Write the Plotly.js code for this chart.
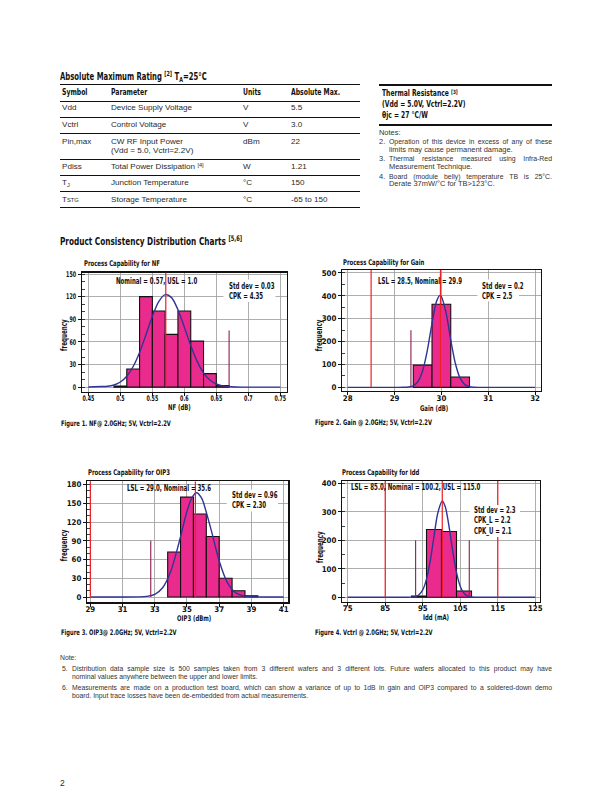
<!DOCTYPE html>
<html><head><meta charset="utf-8">
<script src="https://cdn.plot.ly/plotly-3.0.1.min.js"></script>
<style>
body{margin:0;width:612px;height:792px;position:relative;background:#fff;overflow:hidden;font-family:"Liberation Sans",Arial,sans-serif;color:#2a2a2a}
#plot{position:absolute;left:0;top:0;width:612px;height:792px}
.t{position:absolute;white-space:nowrap;line-height:10px;font-size:8.1px}
.b{font-family:"Liberation Sans Narrow","DejaVu Sans Condensed",sans-serif;font-weight:bold;color:#111;display:inline-block;transform-origin:0 50%}
.hl{position:absolute;background:#111}
.j{position:absolute;text-align:justify;text-align-last:justify;white-space:nowrap}
.n{position:absolute;white-space:nowrap}
.w{transform:scaleX(1.08);transform-origin:0 50%}
.r{font-size:6.9px;line-height:7.6px;color:#333}
.q{font-size:6.8px;line-height:8px;color:#333}
sup{font-size:70%;vertical-align:0;position:relative;top:-0.45em}
sub{font-size:70%;vertical-align:0;position:relative;top:0.3em}
</style></head>
<body>
<div id="plot"></div>

<div class="t b" style="left:60px;top:71.5px;font-size:9.8px;transform:scaleX(0.78)">Absolute Maximum Rating <sup>[2]</sup> T<sub>A</sub>=25°C</div>
<div class="hl" style="left:60px;top:83.5px;width:300px;height:1.2px"></div>
<div class="t b" style="left:62px;top:88.3px;font-size:8px;transform:scaleX(0.85)">Symbol</div>
<div class="t b" style="left:111px;top:88.3px;font-size:8px;transform:scaleX(0.85)">Parameter</div>
<div class="t b" style="left:243px;top:88.3px;font-size:8px;transform:scaleX(0.85)">Units</div>
<div class="t b" style="left:291px;top:88.3px;font-size:8px;transform:scaleX(0.85)">Absolute Max.</div>
<div class="hl" style="left:60px;top:101.2px;width:300px;height:1px"></div>
<div class="t" style="left:62px;top:103.3px">Vdd</div><div class="t" style="left:111px;top:103.3px">Device Supply Voltage</div><div class="t" style="left:243px;top:103.3px">V</div><div class="t" style="left:291px;top:103.3px">5.5</div>
<div class="hl" style="left:60px;top:117px;width:300px;height:0.7px"></div>
<div class="t" style="left:62px;top:120.3px">Vctrl</div><div class="t" style="left:111px;top:120.3px">Control Voltage</div><div class="t" style="left:243px;top:120.3px">V</div><div class="t" style="left:291px;top:120.3px">3.0</div>
<div class="hl" style="left:60px;top:133.4px;width:300px;height:0.7px"></div>
<div class="t" style="left:62px;top:137.3px">Pin,max</div><div class="t" style="left:111px;top:137.3px;line-height:9px">CW RF Input Power<br>(Vdd = 5.0, Vctrl=2.2V)</div><div class="t" style="left:243px;top:137.3px">dBm</div><div class="t" style="left:291px;top:137.3px">22</div>
<div class="hl" style="left:60px;top:158.7px;width:300px;height:0.7px"></div>
<div class="t" style="left:62px;top:162.3px">Pdiss</div><div class="t" style="left:111px;top:162.3px">Total Power Dissipation <sup>[4]</sup></div><div class="t" style="left:243px;top:162.3px">W</div><div class="t" style="left:291px;top:162.3px">1.21</div>
<div class="hl" style="left:60px;top:174.7px;width:300px;height:0.7px"></div>
<div class="t" style="left:62px;top:178px">T<sub>J</sub></div><div class="t" style="left:111px;top:178px">Junction Temperature</div><div class="t" style="left:243px;top:178px">°C</div><div class="t" style="left:291px;top:178px">150</div>
<div class="hl" style="left:60px;top:190.7px;width:300px;height:0.7px"></div>
<div class="t" style="left:62px;top:194.7px">T<span style="font-size:5.8px">STG</span></div><div class="t" style="left:111px;top:194.7px">Storage Temperature</div><div class="t" style="left:243px;top:194.7px">°C</div><div class="t" style="left:291px;top:194.7px">-65 to 150</div>
<div class="hl" style="left:60px;top:207.2px;width:300px;height:1.2px"></div>

<div class="hl" style="left:379px;top:84.4px;width:173px;height:1.2px"></div>
<div class="t b" style="left:382px;top:88.3px;font-size:8.4px;transform:scaleX(0.8)">Thermal Resistance <sup>[3]</sup></div>
<div class="t b" style="left:382px;top:99px;font-size:8.4px;transform:scaleX(0.8)">(Vdd = 5.0V, Vctrl=2.2V)</div>
<div class="t b" style="left:382px;top:109.7px;font-size:8.4px;transform:scaleX(0.8)">θjc = 27 °C/W</div>
<div class="hl" style="left:379px;top:124.4px;width:173px;height:1.2px"></div>
<div class="n r w" style="left:379px;top:128.5px">Notes:</div>
<div class="n r w" style="left:379px;top:137.9px">2.</div><div class="j r" style="left:389px;top:137.9px;width:163px">Operation of this device in excess of any of these</div>
<div class="n r w" style="left:389px;top:145.8px">limits may cause permanent damage.</div>
<div class="n r w" style="left:379px;top:155.2px">3.</div><div class="j r" style="left:389px;top:155.2px;width:163px">Thermal resistance measured using Infra-Red</div>
<div class="n r w" style="left:389px;top:163.1px">Measurement Technique.</div>
<div class="n r w" style="left:379px;top:172.5px">4.</div><div class="j r" style="left:389px;top:172.5px;width:163px">Board (module belly) temperature TB is 25°C.</div>
<div class="n r w" style="left:389px;top:180.4px">Derate 37mW/°C for TB>123°C.</div>

<div class="t b" style="left:60px;top:236.7px;font-size:11px;transform:scaleX(0.74)">Product Consistency Distribution Charts <sup>[5,6]</sup></div>

<div class="n q" style="left:60px;top:654.3px">Note:</div>
<div class="n q" style="left:62px;top:665px">5.</div><div class="j q" style="left:72px;top:665px;width:480px">Distribution data sample size is 500 samples taken from 3 different wafers and 3 different lots. Future wafers allocated to this product may have</div>
<div class="n q" style="left:72px;top:673px">nominal values anywhere between the upper and lower limits.</div>
<div class="n q" style="left:62px;top:684.3px">6.</div><div class="j q" style="left:72px;top:684.3px;width:480px">Measurements are made on a production test board, which can show a variance of up to 1dB in gain and OIP3 compared to a soldered-down demo</div>
<div class="n q" style="left:72px;top:692.3px">board. Input trace losses have been de-embedded from actual measurements.</div>
<div class="t" style="left:60px;top:778px;font-size:8.5px">2</div>

<script>
// ---------- data ----------
const nfBinLeft=[0.49,0.51,0.53,0.55,0.57,0.59,0.61,0.63,0.65];
const nfCounts=[1.5,24,120,101,70,101,61,18,2];
const nfBinWidth=0.02;
const nfCurveX=[0.45,0.47,0.48,0.49,0.50,0.51,0.52,0.53,0.54,0.55,0.56,0.57,0.58,0.59,0.60,0.61,0.62,0.63,0.64,0.65,0.66,0.68,0.70,0.75];
const nfCurveY=[0.2,0.8,1.2,2.9,6.9,14.5,27.4,46,69.6,94,113.5,122.7,118.7,102.7,79.6,55.1,34.2,19,9.4,4.2,1.8,0.3,0,0];
const nfRedLines=[0.571];
const nfMarks=[[0.67,75]];
const nfXTicks=[0.45,0.5,0.55,0.6,0.65,0.7,0.75];
const nfXTickText=["0.45","0.5","0.55","0.6","0.65","0.7","0.75"];
const nfYTicks=[0,30,60,90,120,150];

const gainBinLeft=[29.4,29.8,30.2];
const gainCounts=[97,363,45];
const gainBinWidth=0.4;
const gainCurveX=[28,29,29.2,29.3,29.4,29.5,29.6,29.7,29.8,29.9,29.97,30.0,30.1,30.2,30.3,30.4,30.5,30.6,30.7,30.8,32];
const gainCurveY=[0,0,0.2,1.5,6.9,25.4,72.7,161.6,280,378,402,397,325.6,207,103,40,12,2.8,0.5,0,0];
const gainRedLines=[28.5,29.98];
const gainMarks=[[29.35,250]];
const gainXTicks=[28,29,30,31,32];
const gainYTicks=[0,100,200,300,400,500];

const oipBinLeft=[33.8,34.6,35.4,36.2,37.0,37.8,38.6];
const oipCounts=[72,160,133,97,30,10,2];
const oipBinWidth=0.8;
const oipCurveX=[29,32,32.5,33,33.5,34,34.5,35,35.3,35.6,35.9,36,36.5,37,37.5,38,38.5,39,40,41];
const oipCurveY=[0,0.15,0.9,4.3,15.3,41.6,86.6,137.4,159,167,159,153,107.6,57.7,23.5,7.3,1.7,0.3,0,0];
const oipRedLines=[29.0,35.52];
const oipMarks=[[32.75,90]];
const oipXTicks=[29,31,33,35,37,39,41];
const oipYTicks=[0,30,60,90,120,150,180];

const iddBinLeft=[92,96,100,104];
const iddCounts=[4,238,231,22];
const iddBinWidth=4;
const iddCurveX=[75,91,92,93,94,95,96,97,98,99,100.2,101,102,103,104,105,106,107,108,109,110,125];
const iddCurveY=[0,0.1,0.6,2.5,8.9,26,63.8,128,214,295,338,318,249,161,86.3,38.3,14,4.3,1.1,0.2,0,0];
const iddRedLines=[85,100.2,115];
const iddMarks=[[93.1,200],[107.4,200]];
const iddXTicks=[75,85,95,105,115,125];
const iddYTicks=[0,100,200,300,400];

// ---------- style ----------
const PINK='#EA2A8C', RED='#EE2024', MAROON='#8A1E50', BLUE='#2E3595';
const NARROW='Liberation Sans Narrow, DejaVu Sans Condensed, sans-serif';
const W=612,H=792;
const px=x=>x/W, py=y=>1-y/H;

const charts=[
 {id:'',  bl:nfBinLeft,cnt:nfCounts,bw:nfBinWidth,cx:nfCurveX,cy:nfCurveY,red:nfRedLines,mk:nfMarks,xt:nfXTicks,xtt:nfXTickText,yt:nfYTicks,
  box:[82,287,272.5,391.7],xr:[0.44,0.7605],yr:[-6,152],wb:[223.5,275.5,279.5,302],ymin:10},
 {id:'2', bl:gainBinLeft,cnt:gainCounts,bw:gainBinWidth,cx:gainCurveX,cy:gainCurveY,red:gainRedLines,mk:gainMarks,xt:gainXTicks,yt:gainYTicks,
  box:[342.3,540.7,270,391],xr:[27.885,32.12],yr:[-16,513],wb:[477.5,519,279.5,301.5],ymin:50},
 {id:'3', bl:oipBinLeft,cnt:oipCounts,bw:oipBinWidth,cx:oipCurveX,cy:oipCurveY,red:oipRedLines,mk:oipMarks,xt:oipXTicks,yt:oipYTicks,
  box:[87.3,288.3,481.3,602.3],xr:[28.81,41.29],yr:[-8.5,185.4],wb:[226.7,278,489.5,511.5],ymin:10},
 {id:'4', bl:iddBinLeft,cnt:iddCounts,bw:iddBinWidth,cx:iddCurveX,cy:iddCurveY,red:iddRedLines,mk:iddMarks,xt:iddXTicks,yt:iddYTicks,
  box:[342.3,540,481,601.7],xr:[73.56,126.25],yr:[-15.4,408],wb:[469.5,520,505,537],ymin:50}
];

const data=[], shapes=[], layout={width:W,height:H,margin:{l:0,r:0,t:0,b:0},showlegend:false,
  paper_bgcolor:'rgba(0,0,0,0)',plot_bgcolor:'#fff',font:{family:NARROW,color:'#111'}};
const tickfont={family:NARROW,size:7.8,weight:'bold',color:'#111'};

charts.forEach(c=>{
  const xa='x'+c.id, ya='y'+c.id;
  data.push({type:'bar',x:c.bl,y:c.cnt,width:c.bl.map(()=>c.bw),offset:0,xaxis:xa,yaxis:ya,
    marker:{color:PINK,line:{color:'#111',width:1.1}},hoverinfo:'skip'});
  data.push({type:'scatter',mode:'lines',x:c.cx,y:c.cy,xaxis:xa,yaxis:ya,line:{color:BLUE,width:1.4,shape:'spline',smoothing:0.8},hoverinfo:'skip'});
  c.red.forEach(v=>shapes.push({type:'line',xref:xa,yref:ya,x0:v,x1:v,y0:0,y1:c.yr[1],line:{color:RED,width:1.2},layer:'above'}));
  c.mk.forEach(m=>shapes.push({type:'line',xref:xa,yref:ya,x0:m[0],x1:m[0],y0:0,y1:m[1],line:{color:MAROON,width:1.1},layer:'above'}));
  shapes.push({type:'rect',xref:'paper',yref:'paper',x0:px(c.wb[0]),x1:px(c.wb[1]),y0:py(c.wb[3]),y1:py(c.wb[2]),
    fillcolor:'#fff',line:{width:0},layer:'above'});
  const axCommon={showline:true,linecolor:'#111',linewidth:1.4,mirror:true,ticks:'outside',ticklen:3,tickwidth:1,tickcolor:'#111',
    showgrid:true,gridcolor:'#9a9a9a',gridwidth:0.8,zeroline:false,tickfont:tickfont,fixedrange:true};
  layout['xaxis'+c.id]=Object.assign({},axCommon,{domain:[px(c.box[0]),px(c.box[1])],range:c.xr,anchor:ya,
    tickmode:'array',tickvals:c.xt,ticktext:c.xtt||c.xt.map(String),ticklabelstandoff:-4});
  layout['yaxis'+c.id]=Object.assign({},axCommon,{domain:[py(c.box[3]),py(c.box[2])],range:c.yr,anchor:xa,
    tickmode:'array',tickvals:c.yt,
    minor:{tickmode:'linear',tick0:0,dtick:c.ymin,ticks:'inside',ticklen:3,tickwidth:0.8,tickcolor:'#111',showgrid:false}});
});
layout.shapes=shapes;

function A(text,x,y,o){return Object.assign({text:text,x:px(x),y:py(y),xref:'paper',yref:'paper',showarrow:false,
  xanchor:'left',yanchor:'middle',align:'left',borderpad:0,font:{family:NARROW,size:8,weight:'bold',color:'#111'}},o||{});}
const fT={family:NARROW,size:7.8,weight:'bold',color:'#111'};
const fA={family:NARROW,size:8.2,weight:'bold',color:'#111'};
const fX={family:NARROW,size:7.8,weight:'bold',color:'#111'};
const fC={family:NARROW,size:7.6,weight:'bold',color:'#111'};
const fI={family:NARROW,size:8,weight:'bold',color:'#111'};
layout.annotations=[
 A('Process Capability for NF',82.7,263,{font:fT}),
 A('Process Capability for Gain',342.3,262.3,{font:fT}),
 A('Process Capability for OIP3',87.3,472.3,{font:fT}),
 A('Process Capability for Idd',341,472.3,{font:fT}),
 A('frequency',64,330,{textangle:-90,xanchor:'center',font:fA}),
 A('frequency',319.3,330,{textangle:-90,xanchor:'center',font:fA}),
 A('frequency',64.3,540,{textangle:-90,xanchor:'center',font:fA}),
 A('frequency',319.3,541.7,{textangle:-90,xanchor:'center',font:fA}),
 A('NF (dB)',183,407.5,{xanchor:'center',font:fX}),
 A('Gain (dB)',438.3,408,{xanchor:'center',font:fX}),
 A('OIP3 (dBm)',199,618.7,{xanchor:'center',font:fX}),
 A('Idd (mA)',440,617.7,{xanchor:'center',font:fX}),
 A('Figure 1. NF@ 2.0GHz; 5V, Vctrl=2.2V',60,423.3,{font:fC}),
 A('Figure 2. Gain @ 2.0GHz; 5V, Vctrl=2.2V',314,422.7,{font:fC}),
 A('Figure 3. OIP3@ 2.0GHz; 5V, Vctrl=2.2V',60,632.7,{font:fC}),
 A('Figure 4. Vctrl @ 2.0GHz; 5V, Vctrl=2.2V',314,632.7,{font:fC}),
 A('Nominal = 0.57, USL = 1.0',115,281,{font:fI}),
 A('Std dev = 0.03<br>CPK = 4.35',227.7,291,{font:fI}),
 A('LSL = 28.5, Nominal = 29.9',376.7,281.7,{font:fI}),
 A('Std dev = 0.2<br>CPK = 2.5',481,291,{font:fI}),
 A('LSL = 29.0, Nominal = 35.6',125.7,488,{font:fI}),
 A('Std dev = 0.96<br>CPK = 2.30',230.7,500.7,{font:fI}),
 A('LSL = 85.0, Nominal = 100.2, USL = 115.0',350,487,{font:fI}),
 A('Std dev = 2.3<br>CPK_L = 2.2<br>CPK_U = 2.1',473.3,521.3,{font:fI})
];

function condense(sel,k){
  document.querySelectorAll(sel).forEach(t=>{
    const lines=t.querySelectorAll('tspan.line');
    const els=lines.length?Array.from(lines):[t];
    els.forEach(el=>{
      const len=el.getComputedTextLength();
      if(len>0){el.setAttribute('textLength',(len*k).toFixed(2));el.setAttribute('lengthAdjust','spacingAndGlyphs');}
    });
  });
}
Plotly.newPlot('plot',data,layout,{staticPlot:true,displayModeBar:false}).then(()=>{
  condense('#plot .xtick text, #plot .ytick text',0.68);
  condense('#plot .annotation text',0.76);
});
</script>
</body></html>
